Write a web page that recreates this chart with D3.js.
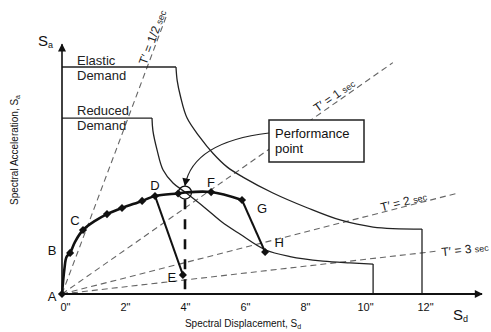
<!DOCTYPE html>
<html>
<head>
<meta charset="utf-8">
<script src="https://cdn.jsdelivr.net/npm/d3@7"></script>
<style>
body { margin: 0; background: #fff; }
svg { display: block; font-family: 'Liberation Sans', Arial, sans-serif; }
</style>
</head>
<body>
<svg></svg>
<script>
// values: Sd in inches, Sa in (arbitrary) g, elastic plateau = 1
const dispTicks = [0, 2, 4, 6, 8, 10, 12];

const elasticPlateau = 1.0;
const elasticCurve = [[3.8, 1.0], [3.84, 0.94], [3.95, 0.87], [4.17, 0.775], [4.6, 0.69], [5.03, 0.62],
    [5.5, 0.56], [6.03, 0.515], [7.03, 0.445], [8.17, 0.38], [9.27, 0.326], [10.37, 0.295], [12, 0.286]];

const reducedPlateau = 0.775;
const reducedCurve = [[3.0, 0.775], [3.03, 0.72], [3.17, 0.634], [3.37, 0.546], [3.7, 0.489], [4.1, 0.449],
    [4.77, 0.379], [5.33, 0.317], [5.93, 0.264], [6.77, 0.195], [7.6, 0.165], [8.7, 0.145], [9.6, 0.137], [10.37, 0.132]];

const capacity = [[0, 0], [0.08, 0.11], [0.15, 0.163], [0.27, 0.181], [0.43, 0.229], [0.7, 0.282], [1.1, 0.322],
    [1.5, 0.352], [2.0, 0.379], [2.67, 0.41], [3.1, 0.432], [3.87, 0.443], [4.1, 0.447], [4.97, 0.449], [6.0, 0.414]];
const capacityMarks = [[0, 0], [0.27, 0.181], [0.7, 0.282], [1.5, 0.352], [2.0, 0.379], [2.67, 0.41],
    [3.1, 0.432], [3.87, 0.443], [4.97, 0.449], [6.0, 0.414]];

const branchDE = [[3.1, 0.432], [4.03, 0.084]];
const branchGH = [[6.0, 0.414], [6.77, 0.185]];

const pointNames = ['A', 'B', 'C', 'D', 'E', 'F', 'G', 'H'];
const pointValues = [[0, 0], [0.27, 0.181], [0.7, 0.282], [3.1, 0.432], [4.03, 0.084], [4.97, 0.449], [6.0, 0.414], [6.77, 0.185]];

const performancePoint = [4.1, 0.447];

const periods = ['1/2', '1', '2', '3'];
const periodSlopes = [0.352, 0.0924, 0.0337, 0.0151];   // Sa per inch of Sd

const size = {w: 491, h: 332};
const svg = d3.select('svg').attr('width', size.w).attr('height', size.h);

const x = d3.scaleLinear().domain([0, 12]).range([62, 422]);
const y = d3.scaleLinear().domain([0, 1]).range([294, 67]);

const line = d3.line().x(d => x(d[0])).y(d => y(d[1]));
const smooth = d3.line().x(d => x(d[0])).y(d => y(d[1])).curve(d3.curveCatmullRom.alpha(0.5));

const defs = svg.append('defs');
defs.append('marker').attr('id', 'arrow')
    .attr('viewBox', '0 0 10 10').attr('refX', 9).attr('refY', 5)
    .attr('markerWidth', 10).attr('markerHeight', 8).attr('markerUnits', 'userSpaceOnUse')
    .attr('orient', 'auto')
    .append('path').attr('d', 'M0,0L10,5L0,10Z').attr('fill', '#111');

// period lines
const periodLayout = [
    {end: 3.48, at: 3.19, off: 7},
    {end: 11.03, at: 9.2, off: 8},
    {end: 13.17, at: 11.43, off: 6.5},
    {end: 12.45, at: 13.43, off: 0}
];
const pg = svg.append('g');
periods.forEach((p, i) => {
    const s = periodSlopes[i], L = periodLayout[i];
    pg.append('path')
        .attr('d', line([[0, 0], [L.end, s * L.end]]))
        .attr('fill', 'none').attr('stroke', '#666').attr('stroke-width', 1.1)
        .attr('stroke-dasharray', '6,4');
    const ang = Math.atan2(y(s) - y(0), x(1) - x(0)) * 180 / Math.PI;
    const t = pg.append('text')
        .attr('transform', `translate(${x(L.at)},${y(s * L.at)}) rotate(${ang})`)
        .attr('y', -L.off).attr('dy', '0.35em')
        .attr('text-anchor', 'middle').attr('fill', '#222');
    t.append('tspan').attr('font-size', 12).text(`T′ = ${p} `);
    t.append('tspan').attr('font-size', 9).text('sec');
});

// demand spectra
function demand(plateau, curve) {
    const g = svg.append('g').attr('fill', 'none').attr('stroke', '#222').attr('stroke-width', 1.3);
    const first = curve[0], last = curve[curve.length - 1];
    g.append('path').attr('d', line([[0, plateau], first]));
    g.append('path').attr('d', smooth(curve));
    g.append('path').attr('d', line([last, [last[0], 0]]));
}
demand(elasticPlateau, elasticCurve);
demand(reducedPlateau, reducedCurve);

svg.append('g').attr('font-size', 13).attr('fill', '#222')
    .selectAll('text')
    .data([['Elastic', 65], ['Demand', 80], ['Reduced', 115], ['Demand', 130]])
    .join('text')
    .attr('x', 77).attr('y', d => d[1]).text(d => d[0]);

// performance point drop line
svg.append('path')
    .attr('d', line([[performancePoint[0], performancePoint[1] - 0.03], [performancePoint[0], 0]]))
    .attr('stroke', '#111').attr('stroke-width', 2.6).attr('stroke-dasharray', '10,10');

// axes
svg.append('line')
    .attr('x1', x(0)).attr('y1', y(0)).attr('x2', x(0)).attr('y2', y(1.1))
    .attr('stroke', '#111').attr('stroke-width', 1.6).attr('marker-end', 'url(#arrow)');
svg.append('line')
    .attr('x1', x(0)).attr('y1', y(0)).attr('x2', x(14)).attr('y2', y(0))
    .attr('stroke', '#111').attr('stroke-width', 2).attr('marker-end', 'url(#arrow)');

const xAxis = svg.append('g')
    .attr('transform', `translate(0,${y(0)})`)
    .call(d3.axisBottom(x).tickValues(dispTicks).tickSize(0).tickPadding(9).tickFormat(d => d + '"'));
xAxis.select('.domain').remove();
xAxis.selectAll('text').attr('font-size', 11).attr('fill', '#111').attr('dx', 3)
    .attr('font-family', "'Liberation Sans', Arial, sans-serif");

// capacity curve
svg.append('path').attr('d', smooth(capacity))
    .attr('fill', 'none').attr('stroke', '#111').attr('stroke-width', 2.6);
[branchDE, branchGH].forEach(b => {
    svg.append('path').attr('d', line(b))
        .attr('fill', 'none').attr('stroke', '#111').attr('stroke-width', 2);
});

const marks = capacityMarks.concat([branchDE[1], branchGH[1]]);
svg.append('g').selectAll('path')
    .data(marks)
    .join('path')
    .attr('d', d3.symbol(d3.symbolDiamond2, 42))
    .attr('transform', d => `translate(${x(d[0])},${y(d[1])})`)
    .attr('fill', '#111');

const labelOffset = {A: [-10, 7], B: [-18, 2], C: [-8, -5], D: [0, -6], E: [-11, 7], F: [0, -5], G: [20, 13], H: [14, -5]};
svg.append('g').attr('font-size', 13).attr('fill', '#111').attr('text-anchor', 'middle')
    .selectAll('text')
    .data(pointNames)
    .join('text')
    .attr('x', (d, i) => x(pointValues[i][0]) + labelOffset[d][0])
    .attr('y', (d, i) => y(pointValues[i][1]) + labelOffset[d][1])
    .text(d => d);

svg.append('circle')
    .attr('cx', x(performancePoint[0])).attr('cy', y(performancePoint[1])).attr('r', 6.5)
    .attr('fill', 'none').attr('stroke', '#111').attr('stroke-width', 1.3);

// performance point callout
const box = {x: 269, y: 120, w: 95, h: 42};
svg.append('rect')
    .attr('x', box.x).attr('y', box.y).attr('width', box.w).attr('height', box.h)
    .attr('fill', '#fff').attr('stroke', '#222').attr('stroke-width', 1.5);
svg.append('g').attr('font-size', 13).attr('fill', '#111')
    .selectAll('text')
    .data([['Performance', 138], ['point', 153]])
    .join('text')
    .attr('x', box.x + 6).attr('y', d => d[1]).text(d => d[0]);

const px = x(performancePoint[0]), py = y(performancePoint[1]);
svg.append('path')
    .attr('d', `M${box.x},${box.y + 13}Q${px + 8},${box.y + 22} ${px},${py - 7}`)
    .attr('fill', 'none').attr('stroke', '#222').attr('stroke-width', 1.2)
    .attr('marker-end', 'url(#arrow)');

// axis titles
const sa = svg.append('text').attr('x', 38).attr('y', 46).attr('font-size', 15).attr('fill', '#111');
sa.append('tspan').text('S');
sa.append('tspan').attr('font-size', 9).attr('dy', 2).text('a');
const sd = svg.append('text').attr('x', 453).attr('y', 320).attr('font-size', 15).attr('fill', '#111');
sd.append('tspan').text('S');
sd.append('tspan').attr('font-size', 9).attr('dy', 2).text('d');

const yt = svg.append('text')
    .attr('transform', 'translate(18,150) rotate(-90)')
    .attr('text-anchor', 'middle').attr('font-size', 10).attr('fill', '#111');
yt.append('tspan').text('Spectral Acceleration, S');
yt.append('tspan').attr('font-size', 7).attr('dy', 2).text('a');

const xt = svg.append('text')
    .attr('x', 243).attr('y', 327)
    .attr('text-anchor', 'middle').attr('font-size', 10).attr('fill', '#111');
xt.append('tspan').text('Spectral Displacement, S');
xt.append('tspan').attr('font-size', 7).attr('dy', 2).text('d');
</script>
</body>
</html>
